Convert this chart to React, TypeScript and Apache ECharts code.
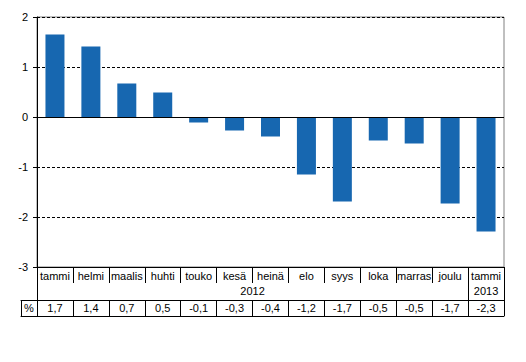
import React, { useEffect, useRef } from "react";
import * as echarts from "echarts";

const months = ["tammi", "helmi", "maalis", "huhti", "touko", "kesä", "heinä", "elo", "syys", "loka", "marras", "joulu", "tammi"];
const barValues = [1.65, 1.41, 0.67, 0.49, -0.11, -0.27, -0.39, -1.15, -1.69, -0.47, -0.53, -1.73, -2.29];
const tableValues = [1.7, 1.4, 0.7, 0.5, -0.1, -0.3, -0.4, -1.2, -1.7, -0.5, -0.5, -1.7, -2.3];
const years = ["2012", "2013"];
const yTicks = { min: -3, max: 2, interval: 1 };
const unitLabel = "%";

const FONT = 'Arial, "Liberation Sans", sans-serif';

export default function App() {
  const ref = useRef<HTMLDivElement>(null);
  useEffect(() => {
    if (!ref.current) return;
    const chart = echarts.init(ref.current, null, { renderer: "svg" });
    const n = months.length;
    const pctMin = -16 / 35.92;
    const boundaries = Array.from({ length: n + 1 }, (_, i) => i);
    const centers = tableValues.map((_, i) => i + 0.5);
    const fmt = (v: number) => v.toFixed(1).replace(".", ",");
    const text = { color: "#000", fontSize: 11, fontFamily: FONT };
    chart.setOption({
      animation: false,
      backgroundColor: "#fff",
      grid: [
        { left: 37, right: 22, top: 17, bottom: 95, show: true, borderColor: "#808080", borderWidth: 1, backgroundColor: "transparent" },
        { left: 21, right: 22, top: 300, height: 16 },
      ],
      xAxis: [
        {
          type: "category",
          gridIndex: 0,
          data: months,
          position: "bottom",
          axisLine: { show: true, onZero: false, lineStyle: { color: "#000", width: 1 } },
          axisTick: { show: true, length: 16, lineStyle: { color: "#000" } },
          axisLabel: { ...text, interval: 0, margin: 3 },
          splitLine: { show: false },
        },
        {
          type: "value",
          gridIndex: 0,
          min: 0,
          max: n,
          position: "bottom",
          axisLine: { show: false, onZero: false },
          axisTick: { show: true, length: 34, customValues: [0, n - 1, n], lineStyle: { color: "#000" } },
          axisLabel: {
            ...text,
            margin: 18,
            customValues: [(n - 1) / 2, n - 0.5],
            formatter: (v: number) => (v < n - 1 ? years[0] : years[1]),
          },
          splitLine: { show: false },
        },
        {
          type: "value",
          gridIndex: 1,
          min: pctMin,
          max: n,
          position: "top",
          axisLine: { show: true, onZero: false, lineStyle: { color: "#000" } },
          axisTick: { show: false },
          axisLabel: {
            ...text,
            inside: true,
            margin: 2,
            customValues: [pctMin / 2, ...centers],
            formatter: (v: number) => (v < 0 ? unitLabel : fmt(tableValues[Math.floor(v)])),
          },
          splitLine: { show: false },
        },
        {
          type: "value",
          gridIndex: 1,
          min: pctMin,
          max: n,
          position: "bottom",
          axisLine: { show: true, onZero: false, lineStyle: { color: "#000" } },
          axisTick: { show: true, inside: true, length: 16, customValues: [pctMin, ...boundaries], lineStyle: { color: "#000" } },
          axisLabel: { show: false },
          splitLine: { show: false },
        },
      ],
      yAxis: [
        {
          type: "value",
          gridIndex: 0,
          min: yTicks.min,
          max: yTicks.max,
          interval: yTicks.interval,
          axisLine: { show: true, lineStyle: { color: "#000" } },
          axisTick: { show: true, length: 4, lineStyle: { color: "#000" } },
          axisLabel: { ...text, margin: 9 },
          splitLine: { show: true, lineStyle: { color: "#000", type: [3, 2], width: 1 } },
        },
        { type: "value", gridIndex: 1, min: 0, max: 1, show: false },
      ],
      series: [
        {
          type: "bar",
          xAxisIndex: 0,
          yAxisIndex: 0,
          data: barValues,
          barWidth: 19,
          itemStyle: { color: "#1767b0" },
          markLine: {
            silent: true,
            symbol: "none",
            label: { show: false },
            lineStyle: { color: "#000", type: "solid", width: 1 },
            data: [{ yAxis: 0 }],
          },
        },
      ],
    });
    return () => chart.dispose();
  }, []);
  return <div ref={ref} style={{ position: "fixed", left: 0, top: 0, width: 526, height: 362 }} />;
}
